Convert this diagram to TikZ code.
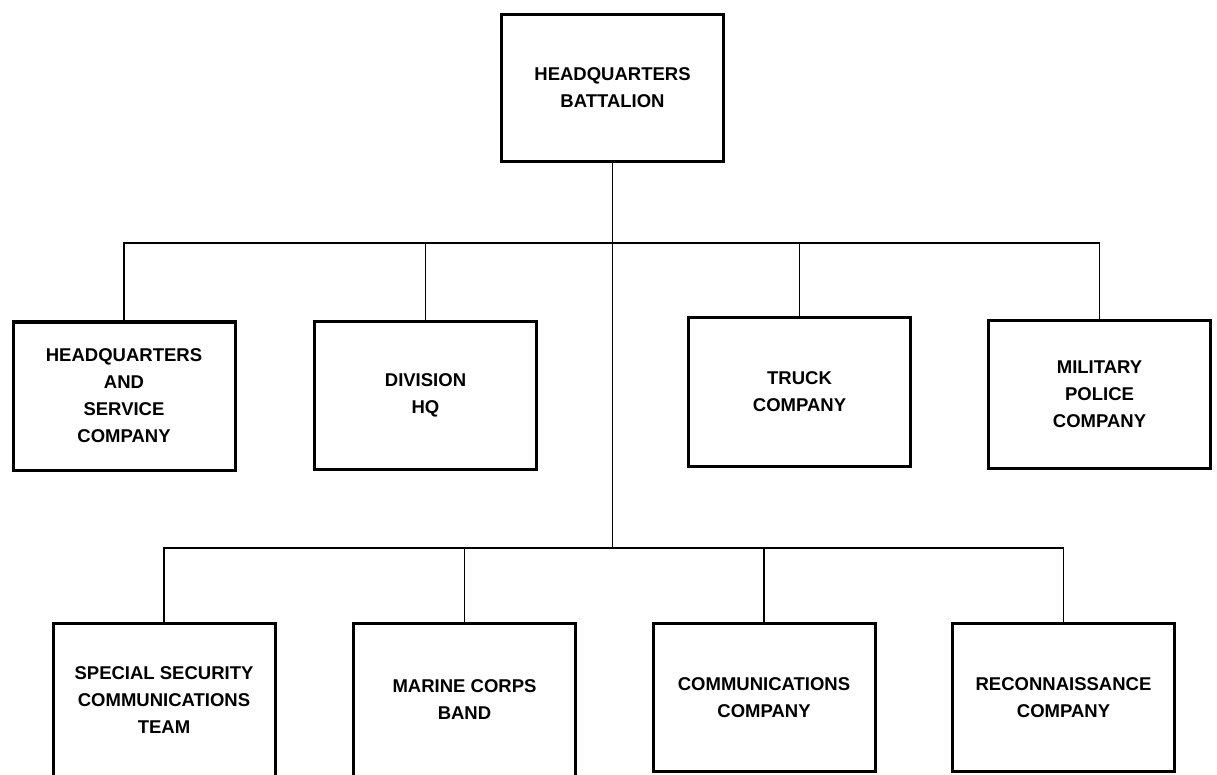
\documentclass[tikz,border=0pt]{standalone}
\usepackage{fontspec}
\setmainfont{Liberation Sans}
\begin{document}
\begin{tikzpicture}[x=1pt,y=-1pt,
  unit/.style={draw, line width=3pt, rectangle, align=center,
    minimum width=222pt, minimum height=148pt, inner sep=0pt,
    font=\bfseries\fontsize{18.5}{27}\selectfont},
  link/.style={line width=1.3pt}]
\useasboundingbox (0,0) rectangle (1217,775);
\clip (0,0) rectangle (1217,775);

% command level
\node[unit, minimum height=147pt] (hqbn) at (612.5,88) {HEADQUARTERS\\BATTALION};

% first tier
\node[unit] (hqs)   at (124,396)    {HEADQUARTERS\\AND\\SERVICE\\COMPANY};
\node[unit] (divhq) at (425.5,395.5) {DIVISION\\HQ};
\node[unit] (truck) at (799.5,392)  {TRUCK\\COMPANY};
\node[unit] (mp)    at (1099.5,394.5) {MILITARY\\POLICE\\COMPANY};

% second tier
\node[unit, minimum height=153pt] (ssct)  at (164,700)    {SPECIAL SECURITY\\COMMUNICATIONS\\TEAM};
\node[unit, minimum height=153pt] (band)  at (464.5,700)  {MARINE CORPS\\BAND};
\node[unit] (comm)  at (764,697.5)  {COMMUNICATIONS\\COMPANY};
\node[unit] (recon) at (1063.5,697.5) {RECONNAISSANCE\\COMPANY};

% bus junctions
\coordinate (j1) at (hqbn.south |- 0,243);
\coordinate (j2) at (hqbn.south |- 0,548);

% trunk
\draw[link] (hqbn.south) -- (j2);

% first-tier bus
\draw[link] (hqs.north) |- (j1) -| (mp.north);
\draw[link] (divhq.north) -- (divhq.north |- j1);
\draw[link] (truck.north) -- (truck.north |- j1);

% second-tier bus
\draw[link] (ssct.north) |- (j2) -| (recon.north);
\draw[link] (band.north) -- (band.north |- j2);
\draw[link] (comm.north) -- (comm.north |- j2);
\end{tikzpicture}
\end{document}
